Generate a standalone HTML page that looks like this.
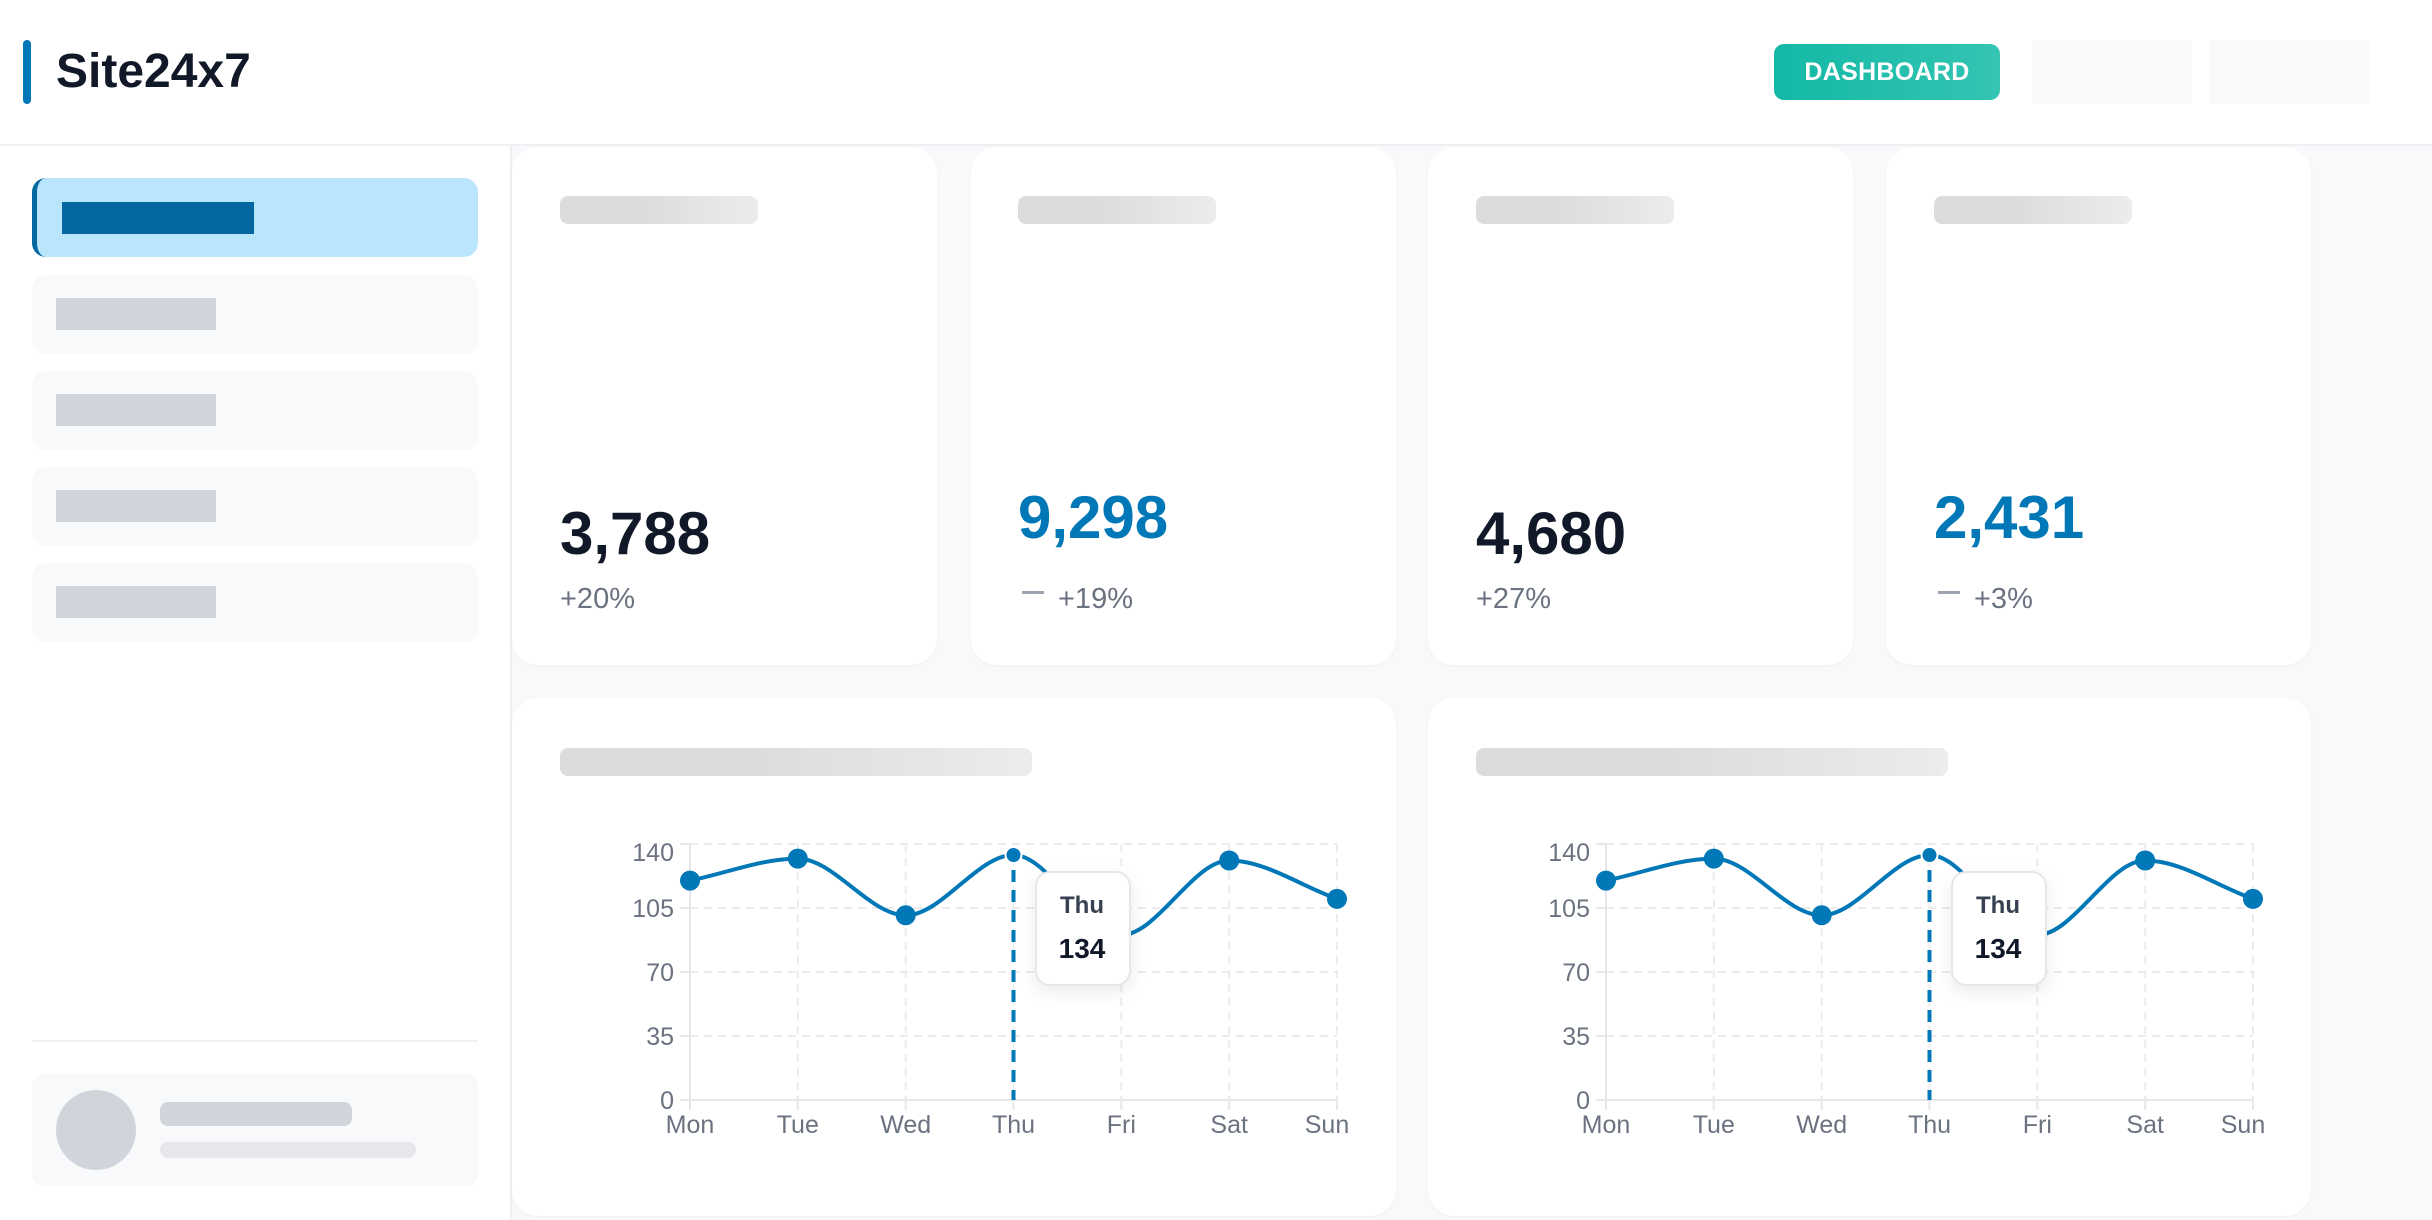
<!DOCTYPE html>
<html><head><meta charset="utf-8"><style>
*{margin:0;padding:0;box-sizing:border-box}
body{width:2432px;height:1218px;background:#f8f9fb;font-family:"Liberation Sans",sans-serif;position:relative;overflow:hidden}
.a{position:absolute}
.header{left:0;top:0;width:2432px;height:146px;background:#fff;border-bottom:2px solid #eef0f3}
.sb{left:0;top:146px;width:512px;height:1074px;background:#fff;border-right:2px solid #eef0f3}
.nav{left:32px;width:446px;height:79px;background:#f8f9fb;border-radius:14px}
.navbar{left:56px;width:160px;height:32px;background:#d1d5db}
.card{background:#fff;border-radius:26px;box-shadow:0 1px 3px rgba(0,0,0,0.04)}
.ttl{height:28px;border-radius:8px;background:linear-gradient(90deg,#dcdcdc 40%,#ececec)}
.val{font-size:60px;font-weight:bold;color:#111827}
.blue{color:#0077b6}
.pct{font-size:29px;color:#6b7280}
</style></head><body>
<div class="a header"></div>
<div class="a" style="left:23px;top:40px;width:8px;height:64px;background:#0077b6;border-radius:4px"></div>
<div class="a" style="left:56px;top:40px;font-size:48px;font-weight:bold;color:#111827;line-height:64px">Site24x7</div>
<div class="a" style="left:1774px;top:44px;width:226px;height:56px;border-radius:10px;background:linear-gradient(90deg,#14b8a6,#34c4b2);color:#fff;font-weight:bold;font-size:25px;line-height:56px;text-align:center;letter-spacing:0.3px">DASHBOARD</div>
<div class="a" style="left:2032px;top:40px;width:160px;height:64px;background:#f8f9fb"></div>
<div class="a" style="left:2209px;top:40px;width:160px;height:64px;background:#f8f9fb"></div>

<div class="a sb"></div>
<div class="a nav" style="top:178px;background:#bae6fd;border-left:5px solid #03689f"></div>
<div class="a" style="left:62px;top:202px;width:192px;height:32px;background:#03689f"></div>
<div class="a nav" style="top:275px"></div><div class="a navbar" style="top:298px"></div>
<div class="a nav" style="top:371px"></div><div class="a navbar" style="top:394px"></div>
<div class="a nav" style="top:467px"></div><div class="a navbar" style="top:490px"></div>
<div class="a nav" style="top:563px"></div><div class="a navbar" style="top:586px"></div>
<div class="a" style="left:32px;top:1040px;width:446px;height:2px;background:#eef0f3"></div>
<div class="a" style="left:32px;top:1074px;width:446px;height:112px;background:#f8f9fb;border-radius:12px"></div>
<div class="a" style="left:56px;top:1090px;width:80px;height:80px;border-radius:50%;background:#d1d5db"></div>
<div class="a" style="left:160px;top:1102px;width:192px;height:24px;border-radius:8px;background:#d1d5db"></div>
<div class="a" style="left:160px;top:1142px;width:256px;height:16px;border-radius:8px;background:#e5e7eb"></div>

<div class="a card" style="left:512px;top:147px;width:425px;height:518px"></div>
<div class="a card" style="left:971px;top:147px;width:425px;height:518px"></div>
<div class="a card" style="left:1428px;top:147px;width:425px;height:518px"></div>
<div class="a card" style="left:1886px;top:147px;width:425px;height:518px"></div>
<div class="a ttl" style="left:560px;top:196px;width:198px"></div>
<div class="a ttl" style="left:1018px;top:196px;width:198px"></div>
<div class="a ttl" style="left:1476px;top:196px;width:198px"></div>
<div class="a ttl" style="left:1934px;top:196px;width:198px"></div>
<div class="a val" style="left:560px;top:499px">3,788</div>
<div class="a val blue" style="left:1018px;top:483px">9,298</div>
<div class="a val" style="left:1476px;top:499px">4,680</div>
<div class="a val blue" style="left:1934px;top:483px">2,431</div>
<div class="a pct" style="left:560px;top:583px">+20%</div>
<div class="a pct" style="left:1022px;top:583px"><span style="display:inline-block;width:22px;height:3px;background:#9ca3af;vertical-align:middle;margin-right:14px;position:relative;top:-8px"></span>+19%</div>
<div class="a pct" style="left:1476px;top:583px">+27%</div>
<div class="a pct" style="left:1938px;top:583px"><span style="display:inline-block;width:22px;height:3px;background:#9ca3af;vertical-align:middle;margin-right:14px;position:relative;top:-8px"></span>+3%</div>

<div class="a card" style="left:512px;top:698px;width:884px;height:518px"></div>
<div class="a card" style="left:1428px;top:698px;width:883px;height:518px"></div>
<div class="a ttl" style="left:560px;top:748px;width:472px"></div>
<div class="a ttl" style="left:1476px;top:748px;width:472px"></div>

<svg class="a" style="left:0;top:0" width="2432" height="1218">
<defs>
<g id="ch">
<g stroke="#ececef" stroke-width="2" stroke-dasharray="8,6" fill="none">
<line x1="690" y1="844" x2="1337" y2="844"/><line x1="690" y1="908" x2="1337" y2="908"/><line x1="690" y1="972" x2="1337" y2="972"/><line x1="690" y1="1036" x2="1337" y2="1036"/>
<line x1="797.8" y1="844" x2="797.8" y2="1100"/><line x1="905.7" y1="844" x2="905.7" y2="1100"/><line x1="1013.5" y1="844" x2="1013.5" y2="1100"/><line x1="1121.3" y1="844" x2="1121.3" y2="1100"/><line x1="1229.2" y1="844" x2="1229.2" y2="1100"/><line x1="1337" y1="844" x2="1337" y2="1100"/>
</g>
<g stroke="#e5e7eb" stroke-width="2">
<line x1="690" y1="844" x2="690" y2="1100"/><line x1="680" y1="1100" x2="1337" y2="1100"/>
<line x1="680" y1="844" x2="690" y2="844"/><line x1="680" y1="908" x2="690" y2="908"/><line x1="680" y1="972" x2="690" y2="972"/><line x1="680" y1="1036" x2="690" y2="1036"/>
<line x1="690" y1="1100" x2="690" y2="1110"/><line x1="797.8" y1="1100" x2="797.8" y2="1110"/><line x1="905.7" y1="1100" x2="905.7" y2="1110"/><line x1="1013.5" y1="1100" x2="1013.5" y2="1110"/><line x1="1121.3" y1="1100" x2="1121.3" y2="1110"/><line x1="1229.2" y1="1100" x2="1229.2" y2="1110"/><line x1="1337" y1="1100" x2="1337" y2="1110"/>
</g>
<g font-family="Liberation Sans, sans-serif" font-size="25" fill="#6b7280" text-anchor="end">
<text x="674" y="861">140</text><text x="674" y="917">105</text><text x="674" y="981">70</text><text x="674" y="1045">35</text><text x="674" y="1109">0</text>
</g>
<g font-family="Liberation Sans, sans-serif" font-size="25" fill="#6b7280" text-anchor="middle">
<text x="690" y="1133">Mon</text><text x="797.8" y="1133">Tue</text><text x="905.7" y="1133">Wed</text><text x="1013.5" y="1133">Thu</text><text x="1121.3" y="1133">Fri</text><text x="1229.2" y="1133">Sat</text><text x="1327" y="1133">Sun</text>
</g>
<line x1="1013.5" y1="850" x2="1013.5" y2="1100" stroke="#0077b6" stroke-width="4" stroke-dasharray="12,8"/>
<path d="M690,880.6 C725.9,873.3 761.9,858.6 797.8,858.6 C833.8,858.6 869.7,915.3 905.7,915.3 C941.6,915.3 977.6,855 1013.5,855 C1049.4,855 1085.4,935 1121.3,935 C1157.2,935 1193.2,860.5 1229.2,860.5 C1265.1,860.5 1301.1,886.1 1337,898.9" fill="none" stroke="#0077b6" stroke-width="4"/>
<g fill="#0077b6">
<circle cx="690" cy="880.6" r="10"/><circle cx="797.8" cy="858.6" r="10"/><circle cx="905.7" cy="915.3" r="10"/><circle cx="1229.2" cy="860.5" r="10"/><circle cx="1337" cy="898.9" r="10"/>
<circle cx="1121.3" cy="935" r="10"/>
</g>
<circle cx="1013.5" cy="855" r="8" fill="#0077b6" stroke="#fff" stroke-width="2"/>
<rect x="1036" y="872" width="94" height="113" rx="14" fill="#fff" stroke="#e5e7eb" stroke-width="2" style="filter:drop-shadow(0 6px 8px rgba(0,0,0,0.08))"/>
<text x="1082" y="913" font-family="Liberation Sans, sans-serif" font-size="24" font-weight="bold" fill="#374151" text-anchor="middle">Thu</text>
<text x="1082" y="958" font-family="Liberation Sans, sans-serif" font-size="28" font-weight="bold" fill="#111827" text-anchor="middle">134</text>
</g>
</defs>
<use href="#ch"/>
<use href="#ch" transform="translate(916,0)"/>
</svg>
</body></html>
